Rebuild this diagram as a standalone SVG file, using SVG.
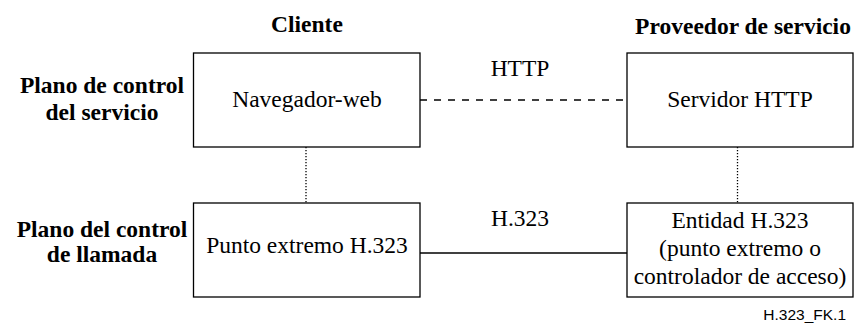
<svg xmlns="http://www.w3.org/2000/svg" width="858" height="325" viewBox="0 0 858 325">
<style>
.box{fill:#fff;stroke:#000;stroke-width:1.3}
.t{font-size:23.5px;fill:#000;text-anchor:middle}
.b{font-size:23.5px;font-weight:bold;fill:#000;text-anchor:middle}
.ln{stroke:#000;stroke-width:1.3;fill:none}
</style>
<rect width="858" height="325" fill="#fff"/>
<g font-family="Liberation Serif, Times New Roman, serif">
<g id="headers">
<text class="b" x="307" y="32">Cliente</text>
<text class="b" x="743" y="34">Proveedor de servicio</text>
<text class="b" x="102" y="93">Plano de control</text>
<text class="b" x="102" y="120">del servicio</text>
<text class="b" x="102" y="237">Plano del control</text>
<text class="b" x="102" y="262">de llamada</text>
</g>
<g id="connectors">
<line class="ln" x1="420" y1="100" x2="627" y2="100" stroke-dasharray="7 7"/>
<line class="ln" x1="420" y1="253" x2="627" y2="253"/>
<line class="ln" x1="306" y1="147" x2="306" y2="203" stroke-width="1.2" stroke-dasharray="1.2 1.8"/>
<line class="ln" x1="737.5" y1="147" x2="737.5" y2="203" stroke-width="1.2" stroke-dasharray="1.2 1.8"/>
<text class="t" x="520" y="76">HTTP</text>
<text class="t" x="520" y="226">H.323</text>
</g>
<g id="navegador">
<rect class="box" x="193.5" y="53" width="226.5" height="94"/>
<text class="t" x="307" y="107">Navegador-web</text>
</g>
<g id="servidor">
<rect class="box" x="627" y="53" width="226" height="94"/>
<text class="t" x="740" y="107">Servidor HTTP</text>
</g>
<g id="punto">
<rect class="box" x="193.5" y="203" width="226.5" height="94"/>
<text class="t" x="307" y="253">Punto extremo H.323</text>
</g>
<g id="entidad">
<rect class="box" x="627" y="203" width="226" height="94"/>
<text class="t" x="740" y="228">Entidad H.323</text>
<text class="t" x="740" y="256">(punto extremo o</text>
<text class="t" x="740" y="284">controlador de acceso)</text>
</g>
</g>
<text x="846" y="320" font-family="Liberation Sans, Arial, sans-serif" font-size="15.5" text-anchor="end">H.323_FK.1</text>
</svg>
